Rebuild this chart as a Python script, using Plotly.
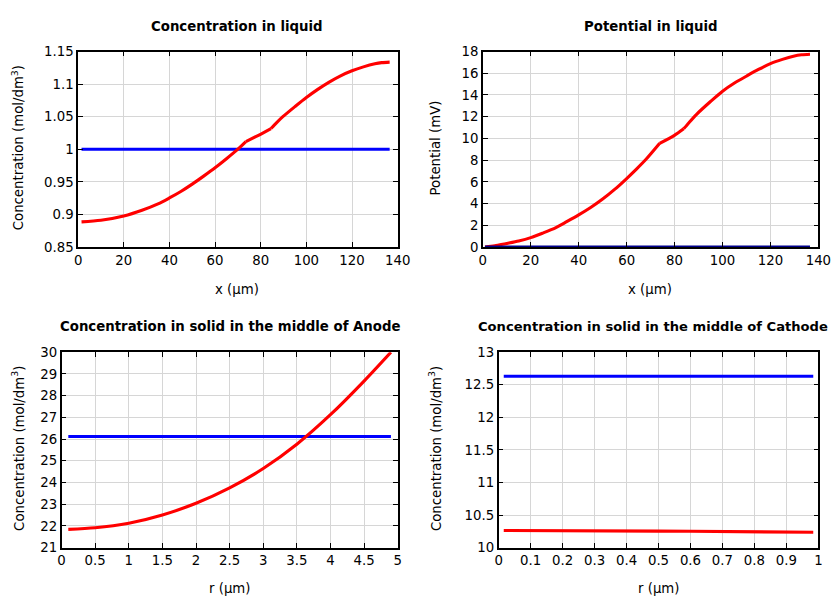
import plotly.graph_objects as go

# ---- data ----
liq_x = [1.5, 10, 20, 28, 35, 40, 45, 50, 55, 60, 65, 70, 73.5, 79, 84.5, 87, 89.7, 95, 100, 105, 110, 115, 120, 125, 130, 133, 136.5]
liq_c = [0.8886, 0.8910, 0.8976, 0.9064, 0.9162, 0.9253, 0.9352, 0.9465, 0.9588, 0.9716, 0.9855, 1.0002, 1.0118, 1.0214, 1.0318, 1.0410, 1.0500, 1.0655, 1.0795, 1.0920, 1.1032, 1.1128, 1.1205, 1.1265, 1.1312, 1.1330, 1.1338]
liq_c0_x = [1.5, 136.5]
liq_c0 = [1.0, 1.0]

pot_x = [0.9, 5, 9.5, 15, 20, 25, 30.5, 35, 40, 45, 50, 55, 59.8, 64, 68.2, 73.8, 79.8, 83.8, 86, 89.1, 95, 99.9, 105, 110.1, 115, 120, 125, 129.6, 133, 136.5]
pot_v = [0.0, 0.10, 0.30, 0.55, 0.86, 1.28, 1.79, 2.33, 2.95, 3.63, 4.41, 5.30, 6.26, 7.15, 8.10, 9.55, 10.26, 10.88, 11.45, 12.20, 13.40, 14.33, 15.10, 15.75, 16.35, 16.89, 17.28, 17.57, 17.70, 17.75]
pot0_x = [0.9, 136.5]
pot0 = [0, 0]

an_r = [0.10, 0.5, 1.0, 1.5, 2.0, 2.5, 3.0, 3.5, 4.0, 4.5, 4.9]
an_c = [21.84, 21.91, 22.12, 22.50, 23.04, 23.75, 24.64, 25.76, 27.12, 28.67, 30.0]
an0_r = [0.10, 4.9]
an0 = [26.12, 26.12]

ca_r = [0.016, 0.2, 0.364, 0.4, 0.5, 0.6, 0.7, 0.8, 0.9, 0.984]
ca_c = [10.262, 10.262, 10.262, 10.256, 10.253, 10.250, 10.246, 10.242, 10.239, 10.236]
ca0_r = [0.016, 0.984]
ca0 = [12.63, 12.63]

# separator/electrode boundaries where the liquid profiles have kinks
liq_kinks = [73.5, 84.5]
pot_kinks = [73.8, 83.8]

FONT = "DejaVu Sans"
# the rendered page ends up photographed slightly scaled and offset;
# target picture coordinates R are mapped to figure pixels f = (R - B) / S
SX, BX = 0.978, 11.5
SY, BY = 0.973, 15.0
W, H = 836, 600
FS = 13.3

def fx(r):
    return (r - BX) / SX

def fy(r):
    return (r - BY) / SY

fig = go.Figure()

def add(x, y, color, xa, ya, w=3.1, shape="linear"):
    fig.add_trace(go.Scatter(x=x, y=y, mode="lines",
                             line=dict(color=color, width=w, shape=shape, smoothing=0.8),
                             xaxis=xa, yaxis=ya, showlegend=False))

def add_pieces(x, y, kinks, color, xa, ya):
    idx = [0] + [x.index(k) for k in kinks] + [len(x) - 1]
    for a, b in zip(idx[:-1], idx[1:]):
        add(x[a:b + 1], y[a:b + 1], color, xa, ya, shape="spline")

add(liq_c0_x, liq_c0, "#0000ff", "x", "y")
add_pieces(liq_x, liq_c, liq_kinks, "#ff0000", "x", "y")
add_pieces(pot_x, pot_v, pot_kinks, "#ff0000", "x2", "y2")
add(pot0_x, pot0, "#00008b", "x2", "y2")
add(an0_r, an0, "#0000ff", "x3", "y3")
add(an_r, an_c, "#ff0000", "x3", "y3", shape="spline")
add(ca0_r, ca0, "#0000ff", "x4", "y4")
add(ca_r, ca_c, "#ff0000", "x4", "y4")

def ax(domain, rng, dtick, anchor):
    return dict(domain=domain, range=rng, dtick=dtick, anchor=anchor,
                showline=True, mirror="allticks", linecolor="black", linewidth=1.5,
                ticks="inside", ticklen=5, tickcolor="black", tickwidth=1.2,
                showgrid=True, gridcolor="#d6d6d6", gridwidth=1, zeroline=False,
                tickfont=dict(family=FONT, size=FS, color="black"))

def dom_x(a, b):
    return [fx(a) / W, fx(b) / W]

def dom_y(top, bottom):
    return [1 - fy(bottom) / H, 1 - fy(top) / H]

xd1 = dom_x(77.5, 396.5)
xd2 = dom_x(481.5, 816.5)
xd3 = dom_x(61.0, 396.5)
xd4 = dom_x(497.3, 816.5)
yd_top = dom_y(51.5, 246.5)
yd_bot = dom_y(351.5, 546.5)

fig.update_layout(
    width=W, height=H, margin=dict(l=0, r=0, t=0, b=0),
    paper_bgcolor="white", plot_bgcolor="white",
    font=dict(family=FONT, size=FS, color="black"),
    xaxis=ax(xd1, [0, 140], 20, "y"),
    yaxis=ax(yd_top, [0.85, 1.15], 0.05, "x"),
    xaxis2=ax(xd2, [0, 140], 20, "y2"),
    yaxis2=ax(yd_top, [0, 18], 2, "x2"),
    xaxis3=ax(xd3, [0, 5], 0.5, "y3"),
    yaxis3=ax(yd_bot, [21, 30], 1, "x3"),
    xaxis4=ax(xd4, [0, 1], 0.1, "y4"),
    yaxis4=ax(yd_bot, [10, 13], 0.5, "x4"),
)
fig.update_layout(xaxis4=dict(tickvals=[0, 0.1, 0.2, 0.3, 0.4, 0.5, 0.6, 0.7, 0.8, 0.9, 1],
                              ticktext=["0", "0.1", "0.2", "0.3", "0.4", "0.5", "0.6", "0.7", "0.8", "0.9", "1"]))

def ann(text, x, y, bold=False, angle=0, size=FS):
    fig.add_annotation(text=("<b>%s</b>" % text) if bold else text,
                       x=fx(x) / W, y=1 - fy(y) / H,
                       xref="paper", yref="paper", showarrow=False, textangle=angle,
                       xanchor="center", yanchor="middle",
                       font=dict(family=FONT, size=size, color="black"))

ann("Concentration in liquid", 236.5, 26, bold=True)
ann("Potential in liquid", 649, 26, bold=True)
ann("Concentration in solid in the middle of Anode", 229, 326, bold=True)
ann("Concentration in solid in the middle of Cathode", 651, 326, bold=True, size=13.1)

ann("x (µm)", 236, 289)
ann("x (µm)", 648, 289)
ann("r (µm)", 229, 587)
ann("r (µm)", 657, 587)

conc = "Concentration (mol/dm<sup>3</sup>)"
ann(conc, 17.5, 148, angle=-90)
ann("Potential (mV)", 434, 148, angle=-90)
ann(conc, 17.5, 448, angle=-90)
ann(conc, 434, 448, angle=-90)

fig.write_html("out.html")
